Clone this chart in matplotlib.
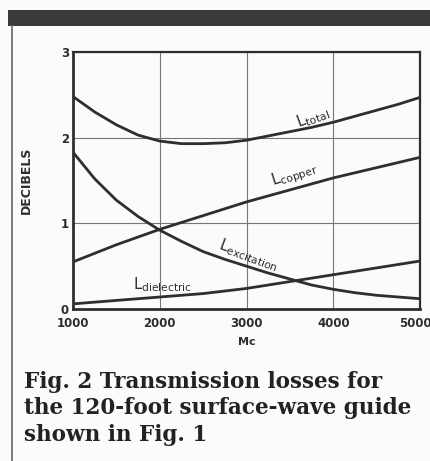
import matplotlib
matplotlib.use("Agg")
import matplotlib.pyplot as plt
import matplotlib.transforms as mtransforms
from matplotlib.patches import Rectangle
from matplotlib.lines import Line2D

freq = [1000, 1250, 1500, 1750, 2000, 2250, 2500, 2750, 3000, 3250, 3500, 3750, 4000, 4250, 4500, 4750, 5000]
l_total = [2.48, 2.30, 2.15, 2.03, 1.96, 1.93, 1.93, 1.94, 1.97, 2.02, 2.07, 2.12, 2.18, 2.25, 2.32, 2.39, 2.47]
l_copper = [0.55, 0.65, 0.75, 0.84, 0.93, 1.01, 1.09, 1.17, 1.25, 1.32, 1.39, 1.46, 1.53, 1.59, 1.65, 1.71, 1.77]
l_excitation = [1.83, 1.52, 1.27, 1.08, 0.92, 0.79, 0.67, 0.58, 0.50, 0.42, 0.35, 0.28, 0.23, 0.19, 0.16, 0.14, 0.12]
l_dielectric = [0.06, 0.08, 0.10, 0.12, 0.14, 0.16, 0.18, 0.21, 0.24, 0.28, 0.32, 0.36, 0.40, 0.44, 0.48, 0.52, 0.56]

x_ticks = [1000, 2000, 3000, 4000, 5000]
y_ticks = [0, 1, 2, 3]

ink = "#2e2e2e"
fig = plt.figure(figsize=(4.31, 4.61), dpi=100, facecolor="#fbfbf9")
ax = fig.add_axes([73/431, 1-309/461, (420-73)/431, (309-52)/461])
ax.set_facecolor("#fbfbf9")

for y in l_total, l_copper, l_excitation, l_dielectric:
    ax.plot(freq, y, color=ink, lw=2.0, solid_capstyle="round")

ax.set_xlim(1000, 5000)
ax.set_ylim(0, 3)
ax.set_xticks(x_ticks)
ax.set_yticks(y_ticks)
ax.grid(True, color="#777777", lw=0.8)
ax.tick_params(length=0, labelsize=8.5, colors=ink)
ax.tick_params(axis="x", pad=6)
ax.tick_params(axis="y", pad=3)
for lab in ax.get_xticklabels() + ax.get_yticklabels():
    lab.set_fontweight("bold")
last = ax.get_xticklabels()[-1]
last.set_transform(last.get_transform() + mtransforms.ScaledTranslation(-5/100, 0, fig.dpi_scale_trans))
for s in ax.spines.values():
    s.set_color(ink)
    s.set_linewidth(1.6)
ax.spines["left"].set_linewidth(2.0)
ax.spines["bottom"].set_linewidth(2.0)

ax.set_xlabel("Mc", fontsize=8, fontweight="bold", color=ink, labelpad=5)
ax.set_ylabel("DECIBELS", fontsize=9, fontweight="bold", color=ink, labelpad=20)

lab_kw = dict(color=ink, fontsize=11, ha="center", va="center")
ax.text(3760, 2.24, r"L$_{\mathregular{total}}$", rotation=20, **lab_kw)
ax.text(3550, 1.57, r"L$_{\mathregular{copper}}$", rotation=18, **lab_kw)
ax.text(3020, 0.63, r"L$_{\mathregular{excitation}}$", rotation=-20, **lab_kw)
ax.text(2030, 0.28, r"L$_{\mathregular{dielectric}}$", rotation=0, **lab_kw)

# page decorations
fig.patches.append(Rectangle((8/431, 1-26/461), 1, 16/461, transform=fig.transFigure,
                             facecolor="#3a3a3a", edgecolor="none"))
fig.lines.append(Line2D([12/431, 12/431], [0, 1-26/461], transform=fig.transFigure,
                        color="#666666", lw=1.2))

cap_kw = dict(fontsize=15.5, fontweight="bold", family="DejaVu Serif", color="#222222",
              ha="left", va="center")
fig.text(24/431, 1-382/461, "Fig. 2 Transmission losses for", **cap_kw)
fig.text(24/431, 1-408/461, "the 120-foot surface-wave guide", **cap_kw)
fig.text(24/431, 1-435/461, "shown in Fig. 1", **cap_kw)

fig.savefig("out.png", dpi=100, facecolor=fig.get_facecolor())
